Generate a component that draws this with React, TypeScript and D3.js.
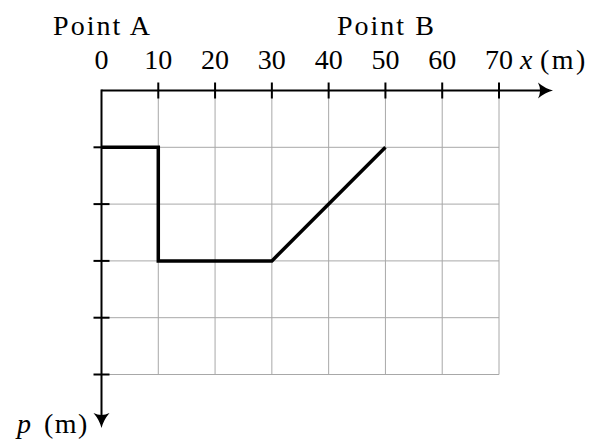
import React from "react";
import * as d3 from "d3";

// Grid extents and tick values
const xTicks = [0, 10, 20, 30, 40, 50, 60, 70];
const pTicks = [1, 2, 3, 4, 5];
const xDomain = [0, 70];
const pDomain = [0, 5];

// Route: x position (m) and p offset (m)
const routeX = [0, 10, 10, 30, 50];
const routeP = [1, 1, 3, 3, 1];

// Point labels placed above the x axis
const pointNames = ["Point A", "Point B"];
const pointX = [0, 50];

const W = 605;
const H = 441;
const FONT = "'Liberation Serif', 'Times New Roman', serif";
const FS = 28;

export default function App() {
  const x = d3.scaleLinear().domain(xDomain).range([101.5, 499]);
  const y = d3.scaleLinear().domain(pDomain).range([90.5, 374.5]);

  const axisY = y(0);
  const axisX = x(0);
  const xArrowTip = 553;
  const yArrowTip = 428;

  const line = d3
    .line<number>()
    .x((_, i) => x(routeX[i]))
    .y((_, i) => y(routeP[i]));

  const arrowRight = (tx: number, ty: number) =>
    `M${tx},${ty} Q${tx - 8},${ty - 2} ${tx - 15},${ty - 8} Q${tx - 11},${ty} ${tx - 15},${ty + 8} Q${tx - 8},${ty + 2} ${tx},${ty} Z`;
  const arrowDown = (tx: number, ty: number) =>
    `M${tx},${ty} Q${tx - 2},${ty - 8} ${tx - 8},${ty - 15} Q${tx},${ty - 11} ${tx + 8},${ty - 15} Q${tx + 2},${ty - 8} ${tx},${ty} Z`;

  return (
    <svg
      width={W}
      height={H}
      style={{ position: "absolute", left: 0, top: 0, background: "#fff" }}
      fontFamily={FONT}
    >
      {/* grid */}
      <g stroke="#a8a8a8" strokeWidth={1}>
        {xTicks.slice(1).map((t) => (
          <line key={"gx" + t} x1={x(t)} x2={x(t)} y1={y(0)} y2={y(5)} />
        ))}
        {pTicks.map((t) => (
          <line key={"gp" + t} x1={x(0)} x2={x(70)} y1={y(t)} y2={y(t)} />
        ))}
      </g>

      {/* axes */}
      <g stroke="#000" strokeWidth={2}>
        <line x1={axisX} x2={xArrowTip - 4} y1={axisY} y2={axisY} />
        <line x1={axisX} x2={axisX} y1={axisY - 1} y2={yArrowTip - 4} />
        {xTicks.slice(1).map((t) => (
          <line key={"tx" + t} x1={x(t)} x2={x(t)} y1={axisY - 8} y2={axisY + 8} />
        ))}
        {pTicks.map((t) => (
          <line key={"tp" + t} x1={axisX - 8} x2={axisX + 8} y1={y(t)} y2={y(t)} />
        ))}
      </g>
      <path d={arrowRight(xArrowTip, axisY)} fill="#000" />
      <path d={arrowDown(axisX, yArrowTip)} fill="#000" />

      {/* route */}
      <path
        d={line(routeX) || ""}
        fill="none"
        stroke="#000"
        strokeWidth={3.5}
        strokeLinejoin="miter"
      />

      {/* tick labels */}
      <g fontSize={FS} textAnchor="middle" fill="#000">
        {xTicks.map((t) => (
          <text key={"lx" + t} x={x(t)} y={68.5}>
            {t}
          </text>
        ))}
      </g>

      {/* point labels */}
      <g fontSize={FS} textAnchor="middle" fill="#000" letterSpacing={2}>
        {pointNames.map((n, i) => (
          <text key={n} x={x(pointX[i]) + 1} y={35}>
            {n}
          </text>
        ))}
      </g>

      {/* axis titles */}
      <text x={520} y={68.5} fontSize={FS} fill="#000">
        <tspan fontStyle="italic">x</tspan>
        <tspan x={540} letterSpacing={2.5}>(m)</tspan>
      </text>
      <text x={17} y={433} fontSize={FS} fill="#000">
        <tspan fontStyle="italic">p</tspan>
        <tspan x={44} letterSpacing={1.5}>(m)</tspan>
      </text>
    </svg>
  );
}
